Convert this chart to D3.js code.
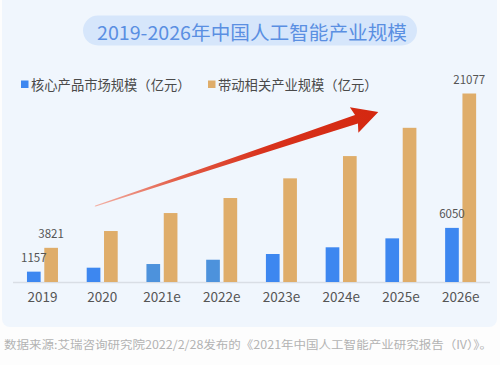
<!DOCTYPE html>
<html><head><meta charset="utf-8">
<script src="https://cdn.jsdelivr.net/npm/d3@7"></script>
<style>
html,body{margin:0;padding:0;background:#fdfdfd;}
svg{display:block;font-family:"Noto Sans CJK SC","Noto Sans",sans-serif;}
</style></head>
<body><svg id="c" width="500" height="365"></svg>
<script>
const title = "2019-2026年中国人工智能产业规模";
const categories = ["2019","2020","2021e","2022e","2023e","2024e","2025e","2026e"];
const seriesNames = ["核心产品市场规模（亿元）","带动相关产业规模（亿元）"];
const coreValues = [1157, 1600, 2010, 2490, 3130, 3880, 4880, 6050];
const relatedValues = [3821, 5700, 7710, 9390, 11590, 14080, 17240, 21077];
const labeledCore = ["2019","2026e"];
const labeledRelated = ["2019","2026e"];
const source = "数据来源:艾瑞咨询研究院2022/2/28发布的《2021年中国人工智能产业研究报告（IV）》。";

const svg = d3.select("#c");
const W = 500, H = 365;
const baseY = 282;

// panel background
svg.append("rect").attr("x",2).attr("y",-10).attr("width",495).attr("height",337)
  .attr("rx",8).attr("fill","#f0f6fd");

// title pill
svg.append("rect").attr("x",83).attr("y",15.5).attr("width",334).attr("height",30)
  .attr("rx",15).attr("fill","#d6e6fb");
svg.append("text").attr("x",252).attr("y",31).attr("text-anchor","middle")
  .attr("dominant-baseline","central").attr("font-size",19).attr("fill","#5a8fe2")
  .attr("textLength",310).attr("lengthAdjust","spacingAndGlyphs").text(title);

// scales
const x0 = d3.scaleBand().domain(categories).range([12.6, 490.5]).padding(0);
const innerW = 31;
const x1 = d3.scaleBand().domain([0,1]).range([(x0.bandwidth()-innerW)/2, (x0.bandwidth()+innerW)/2]).paddingInner(0.21).paddingOuter(0);
const y = d3.scaleLinear().domain([0, 21077]).range([baseY, 93.5]);

const coreColor = d => (d==="2021e"||d==="2022e") ? "#4d92dc" : "#3d87f0";
const relColor = "#dfad6a";

// legend
const legend = [
  {name: seriesNames[0], color:"#3d87f0", x:21},
  {name: seriesNames[1], color:relColor, x:208}
];
legend.forEach(l=>{
  svg.append("rect").attr("x",l.x).attr("y",80.5).attr("width",7.5).attr("height",7.5).attr("fill",l.color);
  svg.append("text").attr("x",l.x+10).attr("y",84.5).attr("dominant-baseline","central")
    .attr("font-size",13.3).attr("fill","#4a4a4a").text(l.name);
});

// axis
svg.append("line").attr("x1",13).attr("x2",490).attr("y1",baseY+0.5).attr("y2",baseY+0.5)
  .attr("stroke","#d9dee5").attr("stroke-width",1.5);
const xAxis = d3.axisBottom(x0).tickSize(0).tickPadding(0);
const ax = svg.append("g").attr("transform",`translate(0,${baseY})`).call(xAxis);
ax.select(".domain").remove();
ax.selectAll("text").attr("y",15).attr("dy","0.35em").attr("font-size",13.5)
  .attr("fill","#555").attr("font-family",'"Noto Sans CJK SC","Noto Sans",sans-serif');

// bars
const g = svg.append("g");
categories.forEach((c,i)=>{
  const cx = x0(c);
  g.append("rect").attr("x",cx+x1(0)).attr("width",x1.bandwidth())
    .attr("y",y(coreValues[i])).attr("height",baseY-y(coreValues[i])).attr("fill",coreColor(c));
  g.append("rect").attr("x",cx+x1(1)).attr("width",x1.bandwidth())
    .attr("y",y(relatedValues[i])).attr("height",baseY-y(relatedValues[i])).attr("fill",relColor);
  if (labeledCore.includes(c)) {
    g.append("text").attr("x",cx+x1(0)+x1.bandwidth()/2).attr("y",y(coreValues[i])-9.5)
      .attr("text-anchor","middle").attr("font-size",11.5).attr("fill","#555").text(coreValues[i]);
  }
  if (labeledRelated.includes(c)) {
    g.append("text").attr("x",cx+x1(1)+x1.bandwidth()/2).attr("y",y(relatedValues[i])-10)
      .attr("text-anchor","middle").attr("font-size",11.5).attr("fill","#555").text(relatedValues[i]);
  }
});

// decorative trend arrow
const S = [95.5, 206], T = [378.3, 112];
const dx = T[0]-S[0], dy = T[1]-S[1], L = Math.hypot(dx,dy);
const u = [dx/L, dy/L], n = [-u[1], u[0]];
const headLen = 23, headHalf = 13.5, shaftHalf = 4.6;
const B = [T[0]-u[0]*headLen, T[1]-u[1]*headLen];
const back = 2.5;
const pt = (p, a, b) => [p[0]+n[0]*a+u[0]*b, p[1]+n[1]*a+u[1]*b];
const mid = [S[0]+dx*0.5, S[1]+dy*0.5];
const defs = svg.append("defs");
const grad = defs.append("linearGradient").attr("id","ag").attr("gradientUnits","userSpaceOnUse")
  .attr("x1",S[0]).attr("y1",S[1]).attr("x2",T[0]).attr("y2",T[1]);
grad.append("stop").attr("offset","0").attr("stop-color","#f3b2a6");
grad.append("stop").attr("offset","0.3").attr("stop-color","#e25a44");
grad.append("stop").attr("offset","0.6").attr("stop-color","#d8321c");
grad.append("stop").attr("offset","1").attr("stop-color","#d42810");
const p1 = pt(S, 0.6, 0), p2 = pt(mid, 2.4, 0), p3 = pt(B, shaftHalf, 0), p4 = pt(B, headHalf, -back);
const q4 = pt(B, -headHalf, -back), q3 = pt(B, -shaftHalf, 0), q2 = pt(mid, -2.4, 0), q1 = pt(S, -0.6, 0);
const path = `M${S[0]-u[0]*1},${S[1]-u[1]*1} L${p1} Q${p2} ${p3} L${p4} L${T} L${q4} L${q3} Q${q2} ${q1} Z`;
svg.append("path").attr("d", path).attr("fill","url(#ag)");

// source
svg.append("text").attr("x",4).attr("y",343.5).attr("dominant-baseline","central")
  .attr("font-size",11.5).attr("fill","#b3b3b3").attr("textLength",488)
  .attr("lengthAdjust","spacingAndGlyphs").text(source);
</script></body></html>
